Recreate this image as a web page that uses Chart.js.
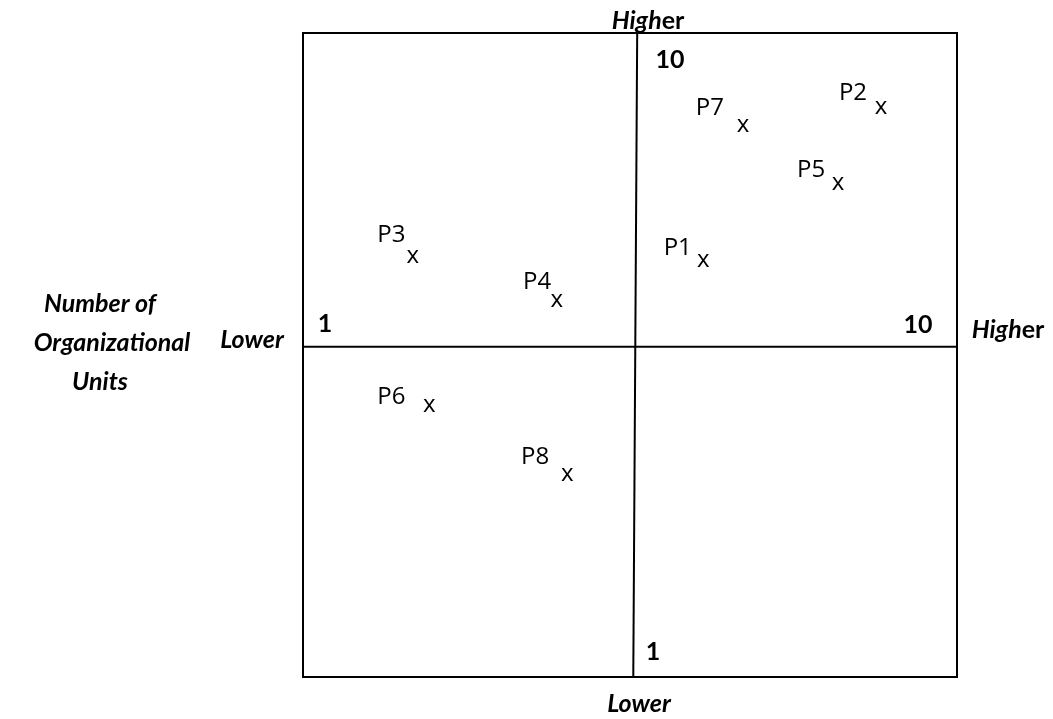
<!DOCTYPE html>
<html>
<head>
<meta charset="utf-8">
<script src="https://cdn.jsdelivr.net/npm/chart.js@4.4.0/dist/chart.umd.min.js"></script>
<style>
html,body{margin:0;padding:0;background:#fff;}
canvas{display:block;}
</style>
</head>
<body>
<canvas id="c" width="1053" height="719"></canvas>
<script>
// Data (positions on a 0-100 scale within the quadrant box)
const pointNames = ['P1','P2','P3','P4','P5','P6','P7','P8'];
const pointX = [61.2, 88.4, 16.8, 38.8, 81.8, 19.3, 67.3, 40.4];
const pointY = [64.4, 88.2, 65.1, 58.2, 76.4, 41.9, 85.4, 31.2];
const labelX = [57.3, 84.1, 13.5, 35.8, 77.7, 13.5, 62.2, 35.5];
const labelY = [66.6, 90.7, 68.6, 61.3, 78.7, 43.5, 88.4, 34.2];
// quadrant dividers
const vDividerX = [51.1, 50.5];
const vDividerY = [100, 0];
const hDividerX = [0, 100];
const hDividerY = [51.3, 51.3];
// tick labels
const tickLow = '1';
const tickHigh = '10';
const axisHighText = ['High', 'er'];
const axisLowText = 'Lower';
const yAxisTitle = ['Number of', 'Organizational', 'Units'];

const FONT = '"Open Sans", "Noto Sans", sans-serif';
const BFONT = 'Lato, "Open Sans", sans-serif';

const textPlugin = {
  id: 'quadText',
  afterDraw(chart) {
    const ctx = chart.ctx;
    const ca = chart.chartArea;
    const xs = chart.scales.x, ys = chart.scales.y;
    ctx.save();
    // border
    ctx.strokeStyle = '#000';
    ctx.lineWidth = 2;
    ctx.strokeRect(ca.left, ca.top, ca.right - ca.left, ca.bottom - ca.top);

    // point markers and labels
    ctx.fillStyle = '#000';
    ctx.textAlign = 'center';
    ctx.textBaseline = 'middle';
    ctx.font = '24px ' + FONT;
    for (let i = 0; i < pointNames.length; i++) {
      ctx.fillText('x', xs.getPixelForValue(pointX[i]), ys.getPixelForValue(pointY[i]) - 2);
      ctx.fillText(pointNames[i], xs.getPixelForValue(labelX[i]), ys.getPixelForValue(labelY[i]));
    }

    // tick labels
    const hy = ys.getPixelForValue(hDividerY[0]);
    ctx.font = 'bold 25px ' + BFONT;
    ctx.textBaseline = 'alphabetic';
    ctx.fillText(tickHigh, 670, ca.top + 35);
    ctx.fillText(tickLow, 653, ca.bottom - 17);
    ctx.fillText(tickHigh, 918, hy - 14);
    ctx.fillText(tickLow, 325, hy - 15);

    // Higher labels (italic "High" + bold "er")
    function drawHigher(cx, baseline) {
      const f1 = 'italic bold 25px ' + BFONT;
      const f2 = 'bold 25px ' + BFONT;
      ctx.font = f1; const w1 = ctx.measureText(axisHighText[0]).width;
      ctx.font = f2; const w2 = ctx.measureText(axisHighText[1]).width;
      let x = cx - (w1 + w2) / 2;
      ctx.textAlign = 'left';
      ctx.font = f1; ctx.fillText(axisHighText[0], x, baseline);
      ctx.font = f2; ctx.fillText(axisHighText[1], x + w1, baseline);
      ctx.textAlign = 'center';
    }
    drawHigher(648, 29);
    drawHigher(1008, 338);

    ctx.font = 'italic bold 25px ' + BFONT;
    ctx.fillText(axisLowText, 252, 348);
    ctx.fillText(axisLowText, 639, 712);
    ctx.fillText(yAxisTitle[0], 100, 312);
    ctx.fillText(yAxisTitle[1], 112, 351);
    ctx.fillText(yAxisTitle[2], 100, 390);
    ctx.restore();
  }
};

new Chart(document.getElementById('c'), {
  type: 'scatter',
  data: {
    datasets: [
      {
        data: pointX.map((x, i) => ({x: x, y: pointY[i]})),
        pointRadius: 0,
        showLine: false
      },
      {
        data: vDividerX.map((x, i) => ({x: x, y: vDividerY[i]})),
        showLine: true,
        borderColor: '#000',
        borderWidth: 2,
        pointRadius: 0
      },
      {
        data: hDividerX.map((x, i) => ({x: x, y: hDividerY[i]})),
        showLine: true,
        borderColor: '#000',
        borderWidth: 2,
        pointRadius: 0
      }
    ]
  },
  options: {
    responsive: false,
    animation: false,
    layout: { padding: { left: 303, right: 96, top: 33, bottom: 42 } },
    plugins: { legend: { display: false }, tooltip: { enabled: false } },
    scales: {
      x: { type: 'linear', min: 0, max: 100, display: false },
      y: { type: 'linear', min: 0, max: 100, display: false }
    }
  },
  plugins: [textPlugin]
});
</script>
</body>
</html>
